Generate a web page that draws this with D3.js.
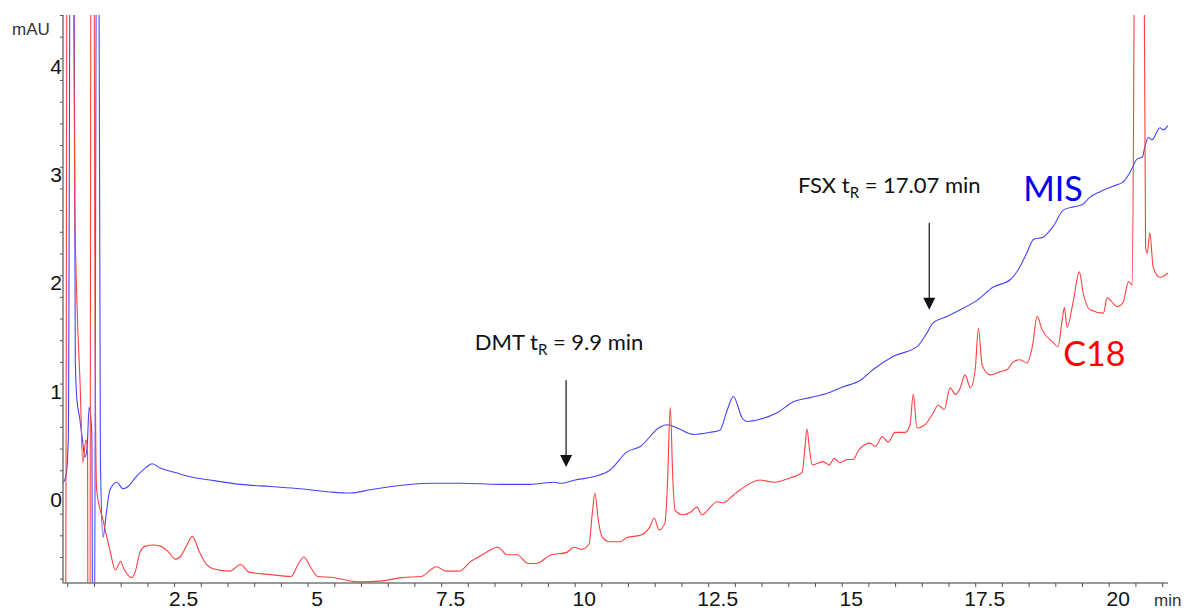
<!DOCTYPE html>
<html>
<head>
<meta charset="utf-8">
<script src="https://cdn.jsdelivr.net/npm/d3@7"></script>
<style>
  body { margin: 0; background: #fff; }
  svg { display: block; }
</style>
</head>
<body>
<script>
var width = 1189, height = 611;

// chromatogram traces (time in min, signal in mAU)
var misTime = [0.42,0.48,0.52,0.56,0.62,0.65,0.68,0.73,0.78,0.83,0.87,0.91,0.96,0.98,1.00,1.06,1.08,1.12,1.17,1.23,1.30,1.43,1.50,1.54,1.64,1.77,1.96,2.09,2.24,2.52,2.80,3.17,3.74,4.30,4.86,5.42,5.80,6.17,6.73,7.29,7.86,8.60,9.17,9.63,9.73,10.01,10.35,10.66,10.98,11.23,11.60,11.73,11.92,12.22,12.54,12.72,12.86,12.97,13.14,13.23,13.47,13.79,14.09,14.41,14.73,15.03,15.35,15.59,15.96,16.41,16.60,16.71,16.98,17.22,17.54,17.84,18.16,18.34,18.47,18.59,18.77,18.96,19.15,19.34,19.50,19.65,19.84,20.08,20.27,20.40,20.53,20.63,20.68,20.74,20.81,20.96,21.02,21.11];
var misValues = [0.08,0.16,0.5,6,6,1.22,0.85,0.69,0.50,0.32,0.40,0.78,0.54,-2.5,-2.5,7,7,0.3,-0.42,-0.2,0.02,0.09,0.05,0.03,0.05,0.13,0.22,0.26,0.22,0.18,0.14,0.11,0.07,0.05,0.03,0.0,-0.01,0.02,0.06,0.08,0.08,0.07,0.07,0.09,0.08,0.11,0.14,0.20,0.37,0.42,0.60,0.62,0.59,0.53,0.55,0.57,0.76,0.88,0.68,0.65,0.67,0.73,0.83,0.87,0.91,0.97,1.03,1.13,1.25,1.34,1.47,1.56,1.62,1.68,1.77,1.89,1.96,2.08,2.21,2.33,2.35,2.45,2.60,2.63,2.65,2.72,2.77,2.82,2.86,2.95,3.07,3.09,3.19,3.27,3.25,3.36,3.34,3.38];

var c18Time = [0.42,0.47,0.50,0.60,0.64,0.68,0.74,0.79,0.85,0.88,0.89,0.92,0.95,0.99,1.02,1.05,1.17,1.30,1.40,1.46,1.50,1.55,1.61,1.71,1.77,1.86,1.96,2.11,2.24,2.39,2.52,2.61,2.74,2.84,2.97,3.11,3.25,3.54,3.75,3.90,4.26,4.69,4.83,4.93,5.05,5.19,5.48,5.69,5.98,6.41,6.77,7.13,7.41,7.59,7.84,8.06,8.27,8.56,8.74,8.92,9.13,9.28,9.56,9.84,9.99,10.13,10.27,10.33,10.38,10.44,10.52,10.66,10.85,10.98,11.23,11.41,11.49,11.58,11.69,11.74,11.79,11.84,11.88,12.03,12.16,12.29,12.38,12.67,12.78,12.97,13.10,13.47,13.72,14.04,14.26,14.31,14.35,14.40,14.45,14.65,14.77,14.86,14.97,15.10,15.22,15.31,15.53,15.63,15.76,15.87,16.00,16.19,16.28,16.34,16.41,16.56,16.69,16.81,16.92,17.03,17.13,17.22,17.31,17.41,17.50,17.56,17.63,17.78,17.97,18.10,18.21,18.34,18.47,18.57,18.66,18.75,18.96,19.05,19.13,19.17,19.22,19.34,19.45,19.52,19.65,19.90,19.97,20.16,20.27,20.37,20.44,20.50,20.65,20.69,20.72,20.77,20.83,20.90,20.96,21.02,21.11];
var c18Values = [-2,-1.0,6,6,2.7,1.77,1.0,0.27,0.48,0.36,-2.5,-2.5,7,7,1.5,0.02,-0.26,-0.54,-0.72,-0.67,-0.64,-0.70,-0.75,-0.79,-0.74,-0.56,-0.50,-0.49,-0.50,-0.55,-0.62,-0.60,-0.49,-0.41,-0.55,-0.67,-0.71,-0.73,-0.67,-0.74,-0.76,-0.78,-0.66,-0.60,-0.69,-0.78,-0.79,-0.81,-0.83,-0.82,-0.79,-0.78,-0.69,-0.73,-0.73,-0.64,-0.58,-0.51,-0.58,-0.58,-0.66,-0.66,-0.58,-0.56,-0.51,-0.53,-0.48,-0.2,-0.01,-0.25,-0.42,-0.46,-0.46,-0.42,-0.40,-0.32,-0.24,-0.35,-0.29,0.1,0.78,0.1,-0.17,-0.21,-0.19,-0.14,-0.21,-0.09,-0.10,-0.03,0.02,0.11,0.09,0.13,0.18,0.4,0.58,0.38,0.25,0.28,0.25,0.31,0.27,0.30,0.30,0.38,0.45,0.42,0.51,0.46,0.55,0.55,0.62,0.90,0.59,0.62,0.71,0.80,0.76,0.96,0.90,0.96,1.08,0.96,1.13,1.51,1.17,1.08,1.11,1.13,1.20,1.22,1.19,1.34,1.62,1.50,1.38,1.34,1.59,1.70,1.52,1.77,2.03,1.84,1.68,1.65,1.79,1.71,1.75,1.94,1.91,6,6,2.26,2.20,2.39,2.08,2.00,1.98,1.99,2.02];

var xMajor = [2.5, 5, 7.5, 10, 12.5, 15, 17.5, 20];
var yMajor = [0, 1, 2, 3, 4];

// annotations: arrow at time t from tail value down to tip value
var arrowLabels = ["DMT", "FSX"];
var arrowSub = [" = 9.9 min", " = 17.07 min"];
var arrowTime = [9.84, 16.64];
var arrowTip = [0.23, 1.68];
var arrowTail = [1.03, 2.48];

var seriesNames = ["MIS", "C18"];
var seriesColors = ["#0000f0", "#ff0000"];

var plot = { left: 63, right: 1168, top: 15, bottom: 583 };

var x = d3.scaleLinear().domain([0.42, 21.11]).range([plot.left, plot.right]);
var y = d3.scaleLinear().domain([-0.84, 4.40]).range([plot.bottom, plot.top]);

var svg = d3.select("body").append("svg")
    .attr("width", width).attr("height", height)
    .style("font-family", "'Liberation Sans', Arial, sans-serif");

svg.append("defs").append("clipPath").attr("id", "clip")
  .append("rect")
    .attr("x", plot.left).attr("y", plot.top)
    .attr("width", plot.right - plot.left).attr("height", plot.bottom - plot.top);

var line = d3.line()
    .x(function(d) { return x(d[0]); })
    .y(function(d) { return y(d[1]); })
    .curve(d3.curveMonotoneX);

var mis = misTime.map(function(t, i) { return [t, misValues[i]]; });
var c18 = c18Time.map(function(t, i) { return [t, c18Values[i]]; });

var traces = svg.append("g").attr("clip-path", "url(#clip)");

traces.append("path")
    .datum(mis)
    .attr("fill", "none")
    .attr("stroke", "#4444ff")
    .attr("stroke-width", 1.1)
    .attr("d", line);

traces.append("path")
    .datum(c18)
    .attr("fill", "none")
    .attr("stroke", "#ff4040")
    .attr("stroke-width", 1.1)
    .attr("d", line);

// x axis, minor ticks every 0.5 min
var xTicks = d3.range(0.5, 21.01, 0.5);
var gx = svg.append("g")
    .attr("transform", "translate(0," + plot.bottom + ")")
    .call(d3.axisBottom(x).tickValues(xTicks).tickSize(4).tickSizeOuter(0)
      .tickFormat(function(d) { return xMajor.indexOf(d) >= 0 ? d3.format("")(d) : ""; }));
gx.select(".domain").attr("stroke", "#777").attr("stroke-width", 1.5)
    .attr("d", "M" + plot.left + ",0H" + plot.right);
gx.selectAll(".tick line").attr("stroke", "#555");
gx.selectAll(".tick text")
    .attr("font-size", 21).attr("fill", "#111")
    .attr("dx", 9).attr("y", 23).attr("dy", 0);

// y axis, minor ticks every 0.2 mAU
var yTicks = d3.range(-0.8, 4.41, 0.2).map(function(v) { return Math.round(v * 10) / 10; });
var gy = svg.append("g")
    .attr("transform", "translate(" + plot.left + ",0)")
    .call(d3.axisLeft(y).tickValues(yTicks).tickSize(3).tickSizeOuter(0).tickPadding(1)
      .tickFormat(function(d) { return yMajor.indexOf(d) >= 0 ? d : ""; }));
gy.select(".domain").attr("stroke", "#777").attr("stroke-width", 1.5)
    .attr("d", "M0," + plot.top + "V" + plot.bottom);
gy.selectAll(".tick line").attr("stroke", "#555");
gy.selectAll(".tick text")
    .attr("font-size", 21).attr("fill", "#111")
    .attr("x", -1).attr("dy", "0.7em");

svg.append("text")
    .attr("x", 12).attr("y", 35)
    .attr("font-size", 17).attr("fill", "#333")
    .text("mAU");

svg.append("text")
    .attr("x", 1154).attr("y", 606)
    .attr("font-size", 17).attr("fill", "#333")
    .text("min");

// retention time arrows
var ann = svg.append("g").style("font-family", "Lato, 'Open Sans', sans-serif");

arrowTime.forEach(function(t, i) {
  var ax = x(t), tip = y(arrowTip[i]), tail = y(arrowTail[i]);
  ann.append("line")
      .attr("x1", ax).attr("x2", ax)
      .attr("y1", tail).attr("y2", tip - 10)
      .attr("stroke", "#222").attr("stroke-width", 1.3);
  ann.append("path")
      .attr("d", "M" + (ax - 6) + "," + (tip - 12) + "L" + (ax + 6) + "," + (tip - 12) + "L" + ax + "," + tip + "Z")
      .attr("fill", "#111");
  var txt = ann.append("text")
      .attr("x", ax + (i === 0 ? -7 : -40)).attr("y", tail - 30)
      .attr("text-anchor", "middle")
      .attr("font-size", 22).attr("fill", "#111");
  txt.append("tspan").text(arrowLabels[i] + " t");
  txt.append("tspan").attr("font-size", 15).attr("dy", 5).text("R");
  txt.append("tspan").attr("dy", -5).text(arrowSub[i]);
});

// series labels
var labelPos = [[18.4, 2.68], [19.15, 1.16]];
seriesNames.forEach(function(n, i) {
  ann.append("text")
      .attr("x", x(labelPos[i][0])).attr("y", y(labelPos[i][1]))
      .attr("font-size", 34).attr("fill", seriesColors[i])
      .text(n);
});
</script>
</body>
</html>
